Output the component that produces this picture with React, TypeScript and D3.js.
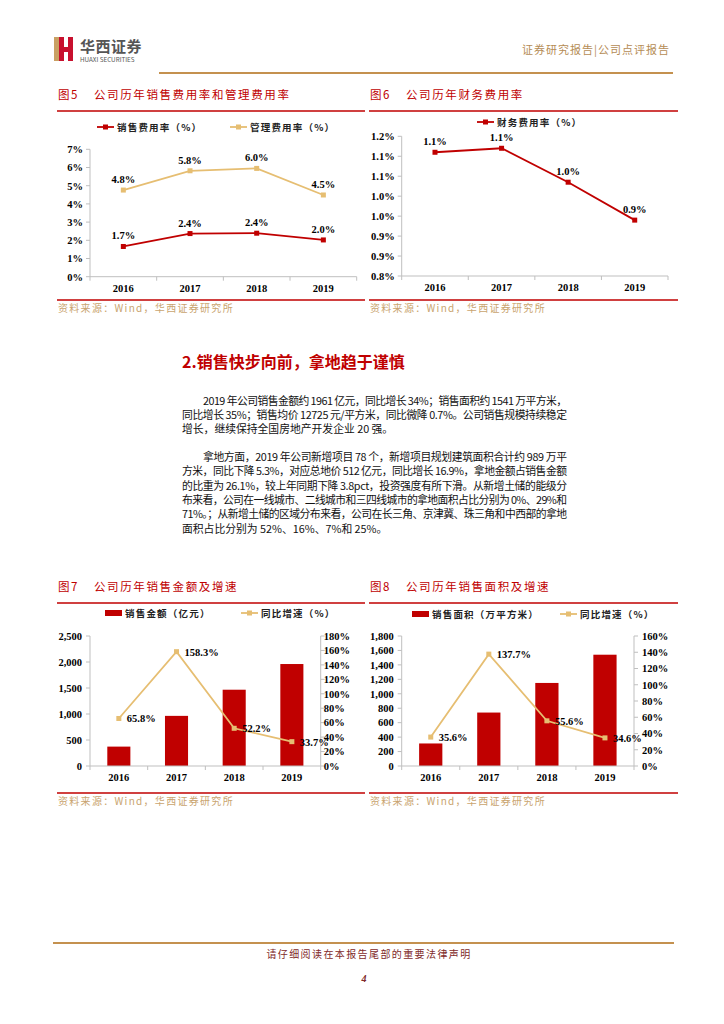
import React from 'react';
import * as d3 from 'd3';

// chart data
const years = ['2016', '2017', '2018', '2019'];

const sellingRate = [1.66, 2.37, 2.39, 2.02];
const adminRate = [4.76, 5.82, 5.95, 4.49];
const rateTicks = [0, 1, 2, 3, 4, 5, 6, 7];

const financeRate = [1.11, 1.12, 1.035, 0.94];
const financeTicks = [0.8, 0.85, 0.9, 0.95, 1.0, 1.05, 1.1, 1.15];
const financeTickLabels = ['0.8%', '0.9%', '0.9%', '1.0%', '1.0%', '1.1%', '1.1%', '1.2%'];

const salesAmount = [373, 964, 1467, 1961];
const salesAmountGrowth = [65.8, 158.3, 52.2, 33.7];
const amountTicks = [0, 500, 1000, 1500, 2000, 2500];
const amountGrowthTicks = [0, 20, 40, 60, 80, 100, 120, 140, 160, 180];

const salesArea = [312, 740, 1150, 1541];
const salesAreaGrowth = [35.6, 137.7, 55.6, 34.6];
const areaTicks = [0, 200, 400, 600, 800, 1000, 1200, 1400, 1600, 1800];
const areaGrowthTicks = [0, 20, 40, 60, 80, 100, 120, 140, 160];

const para1 = [
  '2019 年公司销售金额约 1961 亿元，同比增长 34%；销售面积约 1541 万平方米，',
  '同比增长 35%；销售均价 12725 元/平方米，同比微降 0.7%。公司销售规模持续稳定',
  '增长，继续保持全国房地产开发企业 20 强。',
];
const para2 = [
  '拿地方面，2019 年公司新增项目 78 个，新增项目规划建筑面积合计约 989 万平',
  '方米，同比下降 5.3%，对应总地价 512 亿元，同比增长 16.9%，拿地金额占销售金额',
  '的比重为 26.1%，较上年同期下降 3.8pct，投资强度有所下滑。从新增土储的能级分',
  '布来看，公司在一线城市、二线城市和三四线城市的拿地面积占比分别为 0%、29%和',
  '71%。；从新增土储的区域分布来看，公司在长三角、京津冀、珠三角和中西部的拿地',
  '面积占比分别为 52%、16%、7%和 25%。',
];

const RED = '#C00000';
const TAN = '#E6BE72';
const GOLD = '#C4914F';
const AXIS = '#BFBFBF';
const serif = '"Liberation Serif", "Times New Roman", serif';
const cjk = '"Noto Sans CJK SC", "Noto Sans", sans-serif';

const FigFrame = ({ x0, x1, num, title, top, bottom }: any) => (
  <g>
    <text x={x0 + 1} y={top - 12} fill={RED} fontFamily={cjk} fontSize={11.5} letterSpacing={1.6}>
      {num}
    </text>
    <text x={x0 + 37} y={top - 12} fill={RED} fontFamily={cjk} fontSize={11.5} letterSpacing={1.6}>
      {title}
    </text>
    <line x1={x0} x2={x1} y1={top} y2={top} stroke={RED} strokeWidth={1.5} />
    <line x1={x0} x2={x1} y1={bottom} y2={bottom} stroke={RED} strokeWidth={1.5} />
    <text x={x0 + 1} y={bottom + 12} fill="#C9A46E" fontFamily={cjk} fontSize={10} letterSpacing={1.3}>
      资料来源：Wind，华西证券研究所
    </text>
  </g>
);

const LineLegend = ({ x, y, color, label }: any) => (
  <g>
    <line x1={x} x2={x + 17} y1={y} y2={y} stroke={color} strokeWidth={1.8} />
    <rect x={x + 6} y={y - 2.5} width={5} height={5} fill={color} />
    <text x={x + 20} y={y + 3.5} fontFamily={cjk} fontSize={9.5} fontWeight={700} letterSpacing={1.2} fill="#222">
      {label}
    </text>
  </g>
);

const BarLegend = ({ x, y, label }: any) => (
  <g>
    <rect x={x} y={y - 3} width={17} height={6} fill={RED} />
    <text x={x + 20} y={y + 3.5} fontFamily={cjk} fontSize={9.5} fontWeight={700} letterSpacing={1.2} fill="#222">
      {label}
    </text>
  </g>
);

const CategoryAxis = ({ x, yPos }: any) => {
  const bw = x.bandwidth();
  return (
    <g>
      <line x1={x.range()[0]} x2={x.range()[1]} y1={yPos} y2={yPos} stroke={AXIS} />
      {[...years.map((d: string) => x(d)), x.range()[1]].map((p: number, i: number) => (
        <line key={i} x1={p} x2={p} y1={yPos} y2={yPos + 4} stroke={AXIS} />
      ))}
      {years.map((d: string) => (
        <text key={d} x={x(d) + bw / 2} y={yPos + 15} textAnchor="middle" fontFamily={serif} fontWeight={700} fontSize={10.5}>
          {d}
        </text>
      ))}
    </g>
  );
};

const ValueAxis = ({ y, ticks, xPos, side, fmt, gap }: any) => {
  const dir = side === 'left' ? -1 : 1;
  return (
    <g>
      <line x1={xPos} x2={xPos} y1={y.range()[0]} y2={y.range()[1]} stroke={AXIS} />
      {ticks.map((t: number, i: number) => (
        <g key={i}>
          <line x1={xPos} x2={xPos + dir * 4} y1={y(t)} y2={y(t)} stroke={AXIS} />
          <text
            x={xPos + dir * gap}
            y={y(t) + 3.8}
            textAnchor={side === 'left' ? 'end' : 'start'}
            fontFamily={serif}
            fontWeight={700}
            fontSize={10.5}
          >
            {fmt(t, i)}
          </text>
        </g>
      ))}
    </g>
  );
};

const RateChart = ({ x0, x1, yTop, yBottom, domain, ticks, fmt, series }: any) => {
  const x = d3.scaleBand().domain(years).range([x0, x1]);
  const y = d3.scaleLinear().domain(domain).range([yBottom, yTop]);
  const cx = (d: string) => (x(d) as number) + x.bandwidth() / 2;
  const line = d3
    .line<number>()
    .x((_, i) => cx(years[i]))
    .y((v) => y(v));
  return (
    <g>
      <ValueAxis y={y} ticks={ticks} xPos={x0} side="left" fmt={fmt} gap={7} />
      <CategoryAxis x={x} yPos={yBottom} />
      {series.map((s: any, k: number) => (
        <g key={k}>
          <path d={line(s.values) as string} fill="none" stroke={s.color} strokeWidth={1.8} />
          {s.values.map((v: number, i: number) => (
            <g key={i}>
              <rect x={cx(years[i]) - 2.5} y={y(v) - 2.5} width={5} height={5} fill={s.color} />
              <text x={cx(years[i])} y={y(v) - 7} textAnchor="middle" fontFamily={serif} fontWeight={700} fontSize={10.5}>
                {v.toFixed(1)}%
              </text>
            </g>
          ))}
        </g>
      ))}
    </g>
  );
};

const ComboChart = ({ x0, x1, bars, growth, barMax, barTicks, growthMax, growthTicks, rightGap }: any) => {
  const yTop = 636;
  const yBottom = 766;
  const x = d3.scaleBand().domain(years).range([x0, x1]);
  const yL = d3.scaleLinear().domain([0, barMax]).range([yBottom, yTop]);
  const yR = d3.scaleLinear().domain([0, growthMax]).range([yBottom, yTop]);
  const bw = x.bandwidth();
  const barW = bw / 2.5;
  const cx = (d: string) => (x(d) as number) + bw / 2;
  const line = d3
    .line<number>()
    .x((_, i) => cx(years[i]))
    .y((v) => yR(v));
  return (
    <g>
      <ValueAxis y={yL} ticks={barTicks} xPos={x0} side="left" fmt={d3.format(',')} gap={8} />
      <ValueAxis y={yR} ticks={growthTicks} xPos={x1} side="right" fmt={(t: number) => `${t}%`} gap={rightGap} />
      {bars.map((v: number, i: number) => (
        <rect key={i} x={cx(years[i]) - barW / 2} y={yL(v)} width={barW} height={yBottom - yL(v)} fill={RED} />
      ))}
      <CategoryAxis x={x} yPos={yBottom} />
      <path d={line(growth) as string} fill="none" stroke={TAN} strokeWidth={1.8} />
      {growth.map((v: number, i: number) => (
        <g key={i}>
          <rect x={cx(years[i]) - 2.5} y={yR(v) - 2.5} width={5} height={5} fill={TAN} />
          <text x={cx(years[i]) + 8} y={yR(v) + 4} fontFamily={serif} fontWeight={700} fontSize={10.5}>
            {v.toFixed(1)}%
          </text>
        </g>
      ))}
    </g>
  );
};

const Paragraph = ({ lines, y0 }: any) => (
  <g fontFamily={cjk} fontSize={10.8} fill="#111">
    {lines.map((l: string, i: number) => {
      const last = i === lines.length - 1;
      const x = i === 0 ? 203 : 182;
      return (
        <text
          key={i}
          x={x}
          y={y0 + i * 14.3}
          textLength={last ? undefined : 567 - x}
          lengthAdjust={last ? undefined : 'spacing'}
        >
          {l}
        </text>
      );
    })}
  </g>
);

const App = () => {
  return (
    <svg
      width={724}
      height={1024}
      viewBox="0 0 724 1024"
      style={{ position: 'absolute', left: 0, top: 0, background: '#fff' }}
    >
      <rect width={724} height={1024} fill="#fff" />

      {/* header */}
      <g>
        <rect x={54} y={37} width={5} height={24} fill="#C9A063" />
        <path d="M59,37 L64,37 L64,47 L68,47 L68,37 L73,37 L73,61 L68,61 L68,52 L64,52 L64,61 L59,61 Z" fill="#C8102E" />
        <text x={80} y={52} fontFamily={cjk} fontWeight={700} fontSize={15} fill="#555" letterSpacing={0.5}>
          华西证券
        </text>
        <text x={80} y={62} fontFamily={cjk} fontSize={6.3} fill="#555">
          HUAXI SECURITIES
        </text>
        <text x={670} y={54} textAnchor="end" fontFamily={cjk} fontSize={11} fill="#B58C55" letterSpacing={1}>
          证券研究报告|公司点评报告
        </text>
        <line x1={159} x2={673} y1={73} y2={73} stroke={GOLD} strokeWidth={2} />
      </g>

      {/* figure 5 */}
      <FigFrame x0={57} x1={365} top={111} bottom={300} num="图5" title="公司历年销售费用率和管理费用率" />
      <LineLegend x={97} y={127} color={RED} label="销售费用率（%）" />
      <LineLegend x={230} y={127} color={TAN} label="管理费用率（%）" />
      <RateChart
        x0={90}
        x1={356.7}
        yTop={149.3}
        yBottom={276.7}
        domain={[0, 7]}
        ticks={rateTicks}
        fmt={(t: number) => `${t}%`}
        series={[
          { values: sellingRate, color: RED },
          { values: adminRate, color: TAN },
        ]}
      />

      {/* figure 6 */}
      <FigFrame x0={369} x1={678} top={111} bottom={300} num="图6" title="公司历年财务费用率" />
      <LineLegend x={477} y={122} color={RED} label="财务费用率（%）" />
      <RateChart
        x0={401.7}
        x1={668}
        yTop={136.3}
        yBottom={276}
        domain={[0.8, 1.15]}
        ticks={financeTicks}
        fmt={(_: number, i: number) => financeTickLabels[i]}
        series={[{ values: financeRate, color: RED }]}
      />

      {/* section 2 */}
      <text x={182} y={368} fontFamily={cjk} fontWeight={700} fontSize={16} fill={RED}>
        2.销售快步向前，拿地趋于谨慎
      </text>
      <Paragraph lines={para1} y0={404.5} />
      <Paragraph lines={para2} y0={461} />

      {/* figure 7 */}
      <FigFrame x0={57} x1={365} top={603} bottom={793} num="图7" title="公司历年销售金额及增速" />
      <BarLegend x={105} y={613} label="销售金额（亿元）" />
      <LineLegend x={241} y={613} color={TAN} label="同比增速（%）" />
      <ComboChart
        x0={90}
        x1={320.7}
        bars={salesAmount}
        growth={salesAmountGrowth}
        barMax={2500}
        barTicks={amountTicks}
        growthMax={180}
        growthTicks={amountGrowthTicks}
        rightGap={3}
      />

      {/* figure 8 */}
      <FigFrame x0={369} x1={678} top={603} bottom={793} num="图8" title="公司历年销售面积及增速" />
      <BarLegend x={412} y={614} label="销售面积（万平方米）" />
      <LineLegend x={560} y={614} color={TAN} label="同比增速（%）" />
      <ComboChart
        x0={401.7}
        x1={634}
        bars={salesArea}
        growth={salesAreaGrowth}
        barMax={1800}
        barTicks={areaTicks}
        growthMax={160}
        growthTicks={areaGrowthTicks}
        rightGap={8}
      />

      {/* footer */}
      <line x1={53} x2={674} y1={943} y2={943} stroke={GOLD} strokeWidth={2} />
      <text x={369} y={958} textAnchor="middle" fontFamily={cjk} fontSize={10} letterSpacing={1.4} fill="#7F2A2A">
        请仔细阅读在本报告尾部的重要法律声明
      </text>
      <text x={364} y={982} textAnchor="middle" fontFamily={serif} fontStyle="italic" fontWeight={700} fontSize={10} fill="#7F2A2A">
        4
      </text>
    </svg>
  );
};

export default App;
